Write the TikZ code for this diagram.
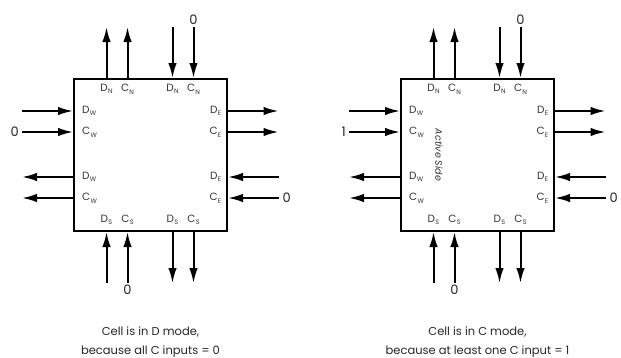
\documentclass[tikz,border=0pt]{standalone}
\usepackage{fontspec}
\setmainfont{Poppins}
\usetikzlibrary{arrows.meta}
\newcommand{\sig}[2]{#1\kern0.3pt\raisebox{-0.45ex}{\fontsize{6.5}{6.5}\selectfont #2}}

\begin{document}
\begin{tikzpicture}[x=1pt, y=-1pt,
    cell/.style={draw, line width=2pt, minimum width=153pt, minimum height=152pt, inner sep=0pt},
    wire/.style={line width=2pt, -{Latex[length=15pt, width=8.5pt]}},
    pin/.style={font=\fontsize{10.5}{10.5}\selectfont, inner sep=0pt, text=black!80},
    val/.style={font=\fontsize{13}{13}\selectfont, inner sep=1pt, text=black!85},
    caption/.style={font=\fontsize{11.5}{19}\selectfont, align=center, text=black!85}
  ]
  \useasboundingbox (0,0) rectangle (621,357);

  \foreach \c/\cx in {L/150.5, R/477.5} {
    \node[cell] (cell\c) at (\cx,155) {};
    \foreach \k/\d/\s in {1/-44/D, 2/-23/C, 3/22/D, 4/43/C} {
      \coordinate (top\c\k) at (\cx+\d, 27);
      \coordinate (bot\c\k) at (\cx+\d, 283);
      \coordinate (west\c\k) at (\cx-128.5, 155+\d);
      \coordinate (east\c\k) at (\cx+128, 155+\d);
      \node[pin] (pinN\c\k) at (\cx+\d, 89) {\sig{\s}{N}};
      \node[pin] (pinS\c\k) at (\cx+\d, 220) {\sig{\s}{S}};
      \node[pin, anchor=west] (pinW\c\k) at (\cx-68.5, 155+\d) {\sig{\s}{W}};
      \node[pin, anchor=east] (pinE\c\k) at (\cx+71, 155+\d) {\sig{\s}{E}};
    }
    % outputs
    \foreach \k in {1,2} {
      \draw[wire] (top\c\k |- cell\c.north) -- (top\c\k);
      \draw[wire] (east\c\k -| cell\c.east) -- (east\c\k);
      \draw[wire] (west\c\k) -- (west\c\k -| cell\c.west);
      \draw[wire] (bot\c\k) -- (bot\c\k |- cell\c.south);
    }
    % inputs
    \foreach \k in {3,4} {
      \draw[wire] (top\c\k) -- (top\c\k |- cell\c.north);
      \draw[wire] (east\c\k) -- (east\c\k -| cell\c.east);
      \draw[wire] (west\c\k -| cell\c.west) -- (west\c\k);
      \draw[wire] (bot\c\k |- cell\c.south) -- (bot\c\k);
    }
  }

  \node[rotate=-90, font=\itshape\fontsize{9.5}{9.5}\selectfont, text=black!80] (side) at (439,155) {Active Side};

  % values on the C lines
  \node[val, above=1pt] (vLN) at (topL4) {0};
  \node[val, left=2pt] (vLW) at (westL2) {0};
  \node[val, right=3pt] (vLE) at (eastL4) {0};
  \node[val, below=1pt] (vLS) at (botL2) {0};
  \node[val, above=1pt] (vRN) at (topR4) {0};
  \node[val, left=2pt] (vRW) at (westR2) {1};
  \node[val, right=3pt] (vRE) at (eastR4) {0};
  \node[val, below=1pt] (vRS) at (botR2) {0};

  \node[caption] (capL) at (150.5,342) {Cell is in D mode,\\because all C inputs = 0};
  \node[caption] (capR) at (477.5,342) {Cell is in C mode,\\because at least one C input = 1};
\end{tikzpicture}
\end{document}
